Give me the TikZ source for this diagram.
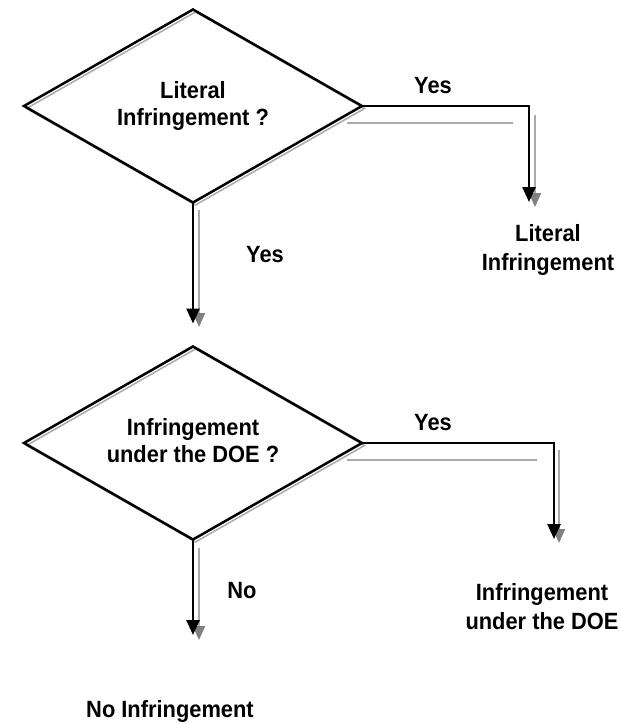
\documentclass[tikz,border=0pt]{standalone}
\usepackage{fontspec}
\setmainfont[FakeStretch=0.93]{Liberation Sans}
\usetikzlibrary{shapes.geometric,arrows.meta,shadows}
\definecolor{shadowgray}{RGB}{170,170,170}
\definecolor{tipgray}{RGB}{128,128,128}
\begin{document}
\begin{tikzpicture}[x=1pt,y=-1pt,
  lbl/.style={anchor=base, inner sep=0pt, font=\bfseries\fontsize{23.5}{28}\selectfont},
  decision/.style={diamond, draw=black, line width=2.5pt, minimum width=338pt, minimum height=193pt,
    inner sep=0pt, outer sep=0pt,
    general shadow={shadow xshift=2.5pt, shadow yshift=-2.5pt, draw=shadowgray, line width=1.5pt}},
  conn/.style={line width=2.5pt, -{Triangle[width=13pt,length=15pt]}},
  shad/.style={draw=shadowgray, line width=2pt},
  shadarrow/.style={shad, -{Triangle[width=12pt,length=14pt,fill=tipgray,color=tipgray]}}]
\useasboundingbox (0,0) rectangle (621,724);

% decisions
\node[decision] (d1) at (193,106) {};
\node[decision] (d2) at (193,443) {};

% decision texts
\node[lbl] (q1a) at (193,98) {Literal};
\node[lbl] (q1b) at (193,125) {Infringement ?};
\node[lbl] (q2a) at (193,435) {Infringement};
\node[lbl] (q2b) at (193,462) {under the DOE ?};

% outcome texts
\node[lbl] (r1a) at (548,241) {Literal};
\node[lbl] (r1b) at (548,270) {Infringement};
\node[lbl] (r2a) at (542,600) {Infringement};
\node[lbl] (r2b) at (542,629) {under the DOE};
\node[lbl] (r3) at (170,717) {No Infringement};

% branch labels
\node[lbl] (y1) at (433,93) {Yes};
\node[lbl] (y2) at (265,262) {Yes};
\node[lbl] (y3) at (433,430) {Yes};
\node[lbl] (n1) at (242,598) {No};

% coordinates for connector ends
\coordinate (t1) at (529,202);
\coordinate (t3) at (554,539);
\coordinate (t4) at (193,635);

% shadow lines
\coordinate (s1a) at (347,123); \coordinate (s1b) at (513,123);
\coordinate (s1c) at (535,115); \coordinate (s1d) at (535,207);
\coordinate (s2a) at (199,210); \coordinate (s2b) at (199,327);
\coordinate (s3a) at (347,460); \coordinate (s3b) at (537,460);
\coordinate (s3c) at (559,450); \coordinate (s3d) at (559,543);
\coordinate (s4a) at (199,548); \coordinate (s4b) at (199,640);

\draw[shad] (s1a) -- (s1b);
\draw[shadarrow] (s1c) -- (s1d);
\draw[shadarrow] (s2a) -- (s2b);
\draw[shad] (s3a) -- (s3b);
\draw[shadarrow] (s3c) -- (s3d);
\draw[shadarrow] (s4a) -- (s4b);

% connectors
\draw[conn] (d1.east) -| (t1);
\draw[conn, shorten >=23pt] (d1.south) -- (d2.north);
\draw[conn] (d2.east) -| (t3);
\draw[conn] (d2.south) -- (t4);
\end{tikzpicture}
\end{document}
